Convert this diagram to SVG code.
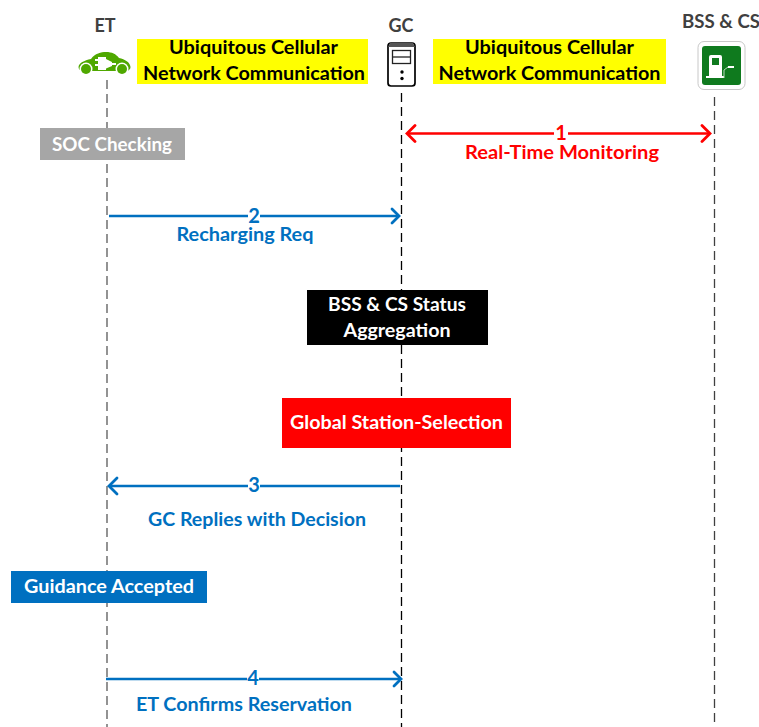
<svg xmlns="http://www.w3.org/2000/svg" width="759" height="727" viewBox="0 0 759 727">
<style>
text{font-family:Lato,"Liberation Sans",sans-serif;font-weight:700;font-size:19px;text-anchor:middle}
.h{fill:#404040;font-size:18px}
.k{fill:#000}
.w{fill:#fff}
.r{fill:#f00}
.b{fill:#0070c0}
.n{font-size:20px}
.life{fill:none;stroke-width:1.3;stroke-dasharray:9 5}
.cr{stroke:#f00;stroke-width:2.6;fill:none}
.cb{stroke:#0070c0;stroke-width:2.6;fill:none}
.hr{stroke:#f00;stroke-width:2.8;fill:none;stroke-linecap:round}
.hb{stroke:#0070c0;stroke-width:2.8;fill:none;stroke-linecap:round}
</style>
<rect width="759" height="727" fill="#fff"/>
<g id="lifelines">
<line class="life" x1="107" y1="80" x2="107" y2="727" stroke="#595959"/>
<line class="life" x1="401.500" y1="93" x2="401.500" y2="727" stroke="#000"/>
<line class="life" x1="714.500" y1="97" x2="714.500" y2="727" stroke="#404040"/>
</g>
<g id="connectors">
<path class="cr" d="M407 133.500H554M568 133.500H710"/><path class="hr" d="M415 125.500L407 133.500L415 141.500M702 125.500L710 133.500L702 141.500"/>
<path class="cb" d="M109 216H248M260 216H399"/><path class="hb" d="M392 209L399 216L392 223"/>
<path class="cb" d="M109 486H248M260 486H400"/><path class="hb" d="M117 478L109 486L117 494"/>
<path class="cb" d="M106 679H247M259 679H401"/><path class="hb" d="M394 672L401 679L394 686"/>
</g>
<g id="et"><text class="h" x="105" y="32">ET</text>
<path fill="#4fa800" d="M78.500 67C79 63 84 60.500 91 59C95 53.500 101 52 106 52C112 52 116 54 119 58C125 59.500 130 62 130.500 67C130.500 69 129 70.500 127 71H82C80 71 78.500 69 78.500 67Z"/>
<circle cx="86" cy="69" r="6.500" fill="#fff"/><circle cx="122" cy="69" r="6.500" fill="#fff"/>
<circle cx="86" cy="69" r="5" fill="#4fa800"/><circle cx="122" cy="69" r="5" fill="#4fa800"/>
<path fill="#fff" d="M98 57H106V59L112 62V63H116V65H112V66L106 68.500V70H98V66H95V64H98V61H95V59H98Z"/></g>
<g id="gc"><text class="h" x="401" y="32">GC</text>
<rect x="388" y="43" width="27" height="43" rx="3" fill="#fff" stroke="#000" stroke-width="1.700"/>
<path d="M390 43H413L415 47H388Z" fill="#555"/>
<rect x="392.500" y="50.500" width="18" height="13" fill="none" stroke="#222" stroke-width="1.300"/><line x1="392.500" y1="57" x2="410.500" y2="57" stroke="#222" stroke-width="1.300"/>
<circle cx="402" cy="72" r="1.700"/><circle cx="402" cy="78.500" r="1.700"/></g>
<g id="bss"><text class="h" x="721" y="28" textLength="78" lengthAdjust="spacingAndGlyphs">BSS &amp; CS</text>
<rect x="698" y="41.500" width="47" height="48" rx="6" fill="#fff" stroke="#c8c8c8"/>
<rect x="702" y="46" width="39" height="39" rx="3" fill="#0f7a1e"/>
<path fill="#fff" d="M709 57A2 2 0 0 1 711 55H720A2 2 0 0 1 722 57V76H724V78H706V76H709Z"/><rect x="712" y="58" width="7" height="7" fill="#0f7a1e"/>
<path fill="none" stroke="#b9d8bc" d="M724 78V70L728 67"/><path fill="#fff" d="M728 66H734V68H728Z"/></g>
<g id="note-left"><rect x="137" y="39" width="231" height="45" fill="#ff0"/><text class="k" x="253.500" y="54" textLength="169" lengthAdjust="spacingAndGlyphs">Ubiquitous Cellular</text><text class="k" x="254" y="80" textLength="222" lengthAdjust="spacingAndGlyphs">Network Communication</text></g>
<g id="note-right"><rect x="433" y="39" width="233" height="45" fill="#ff0"/><text class="k" x="549.500" y="54" textLength="169" lengthAdjust="spacingAndGlyphs">Ubiquitous Cellular</text><text class="k" x="549.500" y="80" textLength="222" lengthAdjust="spacingAndGlyphs">Network Communication</text></g>
<g id="soc"><rect x="40" y="128" width="145" height="32" fill="#a6a6a6"/><text class="w" x="112" y="151" textLength="120" lengthAdjust="spacingAndGlyphs">SOC Checking</text></g>
<g id="status"><rect x="307" y="290" width="181" height="55" fill="#000"/><text class="w" x="397" y="311" textLength="138" lengthAdjust="spacingAndGlyphs">BSS &amp; CS Status</text><text class="w" x="397" y="337" textLength="107" lengthAdjust="spacingAndGlyphs">Aggregation</text></g>
<g id="selection"><rect x="282" y="398" width="229" height="50" fill="#f00"/><text class="w" x="396.500" y="429" textLength="213" lengthAdjust="spacingAndGlyphs">Global Station-Selection</text></g>
<g id="guidance"><rect x="11" y="571" width="196" height="32" fill="#0070c0"/><text class="w" x="109" y="593" textLength="170" lengthAdjust="spacingAndGlyphs">Guidance Accepted</text></g>
<g id="labels">
<text class="r n" x="561" y="140">1</text><text class="r" x="562" y="159" textLength="194" lengthAdjust="spacingAndGlyphs">Real-Time Monitoring</text>
<text class="b n" x="254" y="223">2</text><text class="b" x="245" y="241" textLength="137" lengthAdjust="spacingAndGlyphs">Recharging Req</text>
<text class="b n" x="254" y="492">3</text><text class="b" x="257" y="526" textLength="218" lengthAdjust="spacingAndGlyphs">GC Replies with Decision</text>
<text class="b n" x="253" y="685">4</text><text class="b" x="244" y="711" textLength="216" lengthAdjust="spacingAndGlyphs">ET Confirms Reservation</text>
</g>
</svg>
